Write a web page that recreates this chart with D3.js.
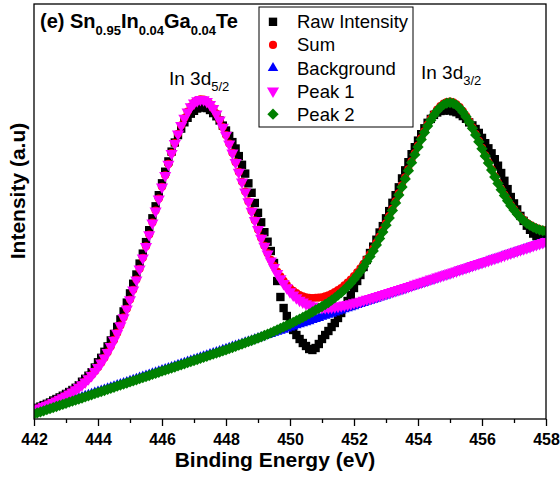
<!DOCTYPE html>
<html>
<head>
<meta charset="utf-8">
<script src="https://cdn.jsdelivr.net/npm/d3@7"></script>
<style>
  body { margin: 0; background: #fff; }
  svg { display: block; font-family: "Liberation Sans", Arial, sans-serif; }
</style>
</head>
<body>
<div id="chart"></div>
<script>
// XPS In 3d spectrum, Sn0.95In0.04Ga0.04Te
// energy grid: 442 -> 458 eV, 0.1 eV step (161 points)
const energyStart = 442;
const energyStep = 0.1;

const rawIntensity = [
  10.0, 11.2, 12.4, 13.9, 15.2, 16.5, 18.5, 20.0, 21.6, 23.3,
  25.1, 27.0, 29.0, 31.2, 33.7, 37.3, 40.2, 43.3, 46.7, 51.5,
  56.7, 61.2, 67.2, 72.6, 78.6, 85.1, 92.1, 99.6, 107.6, 116.4,
  125.6, 135.3, 144.5, 155.4, 165.4, 176.9, 188.8, 200.7, 212.7, 223.8,
  235.7, 247.3, 257.6, 267.4, 276.5, 283.9, 290.4, 296.7, 301.2, 305.3,
  308.2, 310.5, 311.7, 311.5, 310.9, 309.0, 305.9, 302.7, 298.5, 293.4,
  288.5, 283.0, 276.9, 270.5, 262.9, 254.2, 245.4, 235.7, 226.2, 216.0,
  206.2, 196.7, 186.8, 177.3, 168.0, 156.0, 138.0, 122.0, 111.0, 103.0,
  96.0, 89.0, 84.0, 80.0, 76.0, 73.0, 70.0, 69.0, 71.0, 75.0,
  80.0, 84.0, 88.0, 92.0, 96.0, 101.0, 106.0, 112.0, 118.0, 124.0,
  131.0, 138.0, 144.0, 152.0, 159.0, 166.0, 172.4, 179.3, 186.5, 192.9,
  200.7, 207.9, 216.2, 223.8, 231.7, 240.6, 248.7, 256.8, 264.8, 271.8,
  278.4, 284.8, 290.7, 296.2, 300.1, 304.1, 306.5, 308.0, 308.4, 309.0,
  308.5, 307.7, 306.8, 304.9, 302.9, 300.2, 296.6, 293.6, 290.0, 286.1,
  281.1, 275.8, 270.7, 265.7, 259.8, 253.3, 246.0, 238.2, 229.9, 222.0,
  215.6, 209.6, 203.1, 198.1, 193.3, 189.2, 185.4, 182.9, 181.3, 180.5,
  179.9
];

const sumFit = [
  9.0, 10.2, 11.4, 12.8, 14.1, 15.4, 16.9, 18.4, 20.0, 21.6,
  23.4, 25.3, 27.3, 29.5, 32.0, 34.5, 37.4, 40.5, 43.9, 47.7,
  51.8, 56.3, 61.3, 66.7, 72.7, 79.1, 86.1, 93.6, 101.6, 110.3,
  119.5, 129.2, 139.4, 150.2, 161.2, 172.7, 184.5, 196.4, 208.4, 220.4,
  232.3, 243.8, 255.1, 265.9, 275.9, 285.3, 293.7, 301.0, 307.4, 312.5,
  316.3, 318.6, 319.7, 319.5, 317.8, 314.9, 310.7, 305.4, 299.2, 292.0,
  284.0, 275.4, 266.3, 256.8, 247.1, 237.3, 227.4, 217.6, 208.0, 198.7,
  189.4, 181.0, 173.3, 165.9, 159.2, 153.1, 147.5, 142.6, 138.2, 134.3,
  130.8, 128.1, 125.9, 124.0, 122.7, 121.8, 121.1, 121.0, 121.2, 121.4,
  121.8, 122.7, 123.7, 125.2, 126.9, 128.9, 131.0, 133.6, 136.4, 139.5,
  143.0, 146.7, 150.6, 155.2, 159.9, 164.9, 170.4, 176.3, 182.5, 188.9,
  195.7, 202.9, 210.2, 217.8, 225.7, 233.6, 241.7, 249.8, 257.8, 265.8,
  273.4, 280.8, 287.7, 294.2, 300.1, 305.1, 309.5, 313.0, 315.4, 317.0,
  317.5, 316.7, 314.8, 311.9, 307.9, 303.2, 297.6, 291.6, 285.0, 278.1,
  271.1, 263.8, 256.7, 249.7, 242.8, 236.3, 230.0, 224.2, 218.9, 214.0,
  209.6, 205.6, 202.1, 199.1, 196.3, 194.2, 192.4, 190.9, 189.8, 189.0,
  188.4
];

const background = [
  6.0, 7.1, 8.1, 9.2, 10.3, 11.3, 12.4, 13.5, 14.6, 15.6,
  16.7, 17.8, 18.8, 19.9, 21.0, 22.0, 23.1, 24.2, 25.2, 26.3,
  27.4, 28.4, 29.5, 30.6, 31.7, 32.7, 33.8, 34.9, 35.9, 37.0,
  38.1, 39.1, 40.2, 41.3, 42.3, 43.4, 44.5, 45.6, 46.6, 47.7,
  48.8, 49.8, 50.9, 52.0, 53.0, 54.1, 55.2, 56.2, 57.3, 58.4,
  59.5, 60.5, 61.6, 62.7, 63.7, 64.8, 65.9, 66.9, 68.0, 69.1,
  70.1, 71.2, 72.3, 73.3, 74.4, 75.5, 76.6, 77.6, 78.7, 79.8,
  80.8, 81.9, 83.0, 84.0, 85.1, 86.2, 87.2, 88.3, 89.4, 90.5,
  91.5, 92.6, 93.7, 94.7, 95.8, 96.9, 97.9, 99.0, 100.1, 101.1,
  102.2, 103.3, 104.3, 105.4, 106.5, 107.6, 108.6, 109.7, 110.8, 111.8,
  112.9, 114.0, 115.0, 116.1, 117.2, 118.2, 119.3, 120.4, 121.5, 122.5,
  123.6, 124.7, 125.7, 126.8, 127.9, 128.9, 130.0, 131.1, 132.1, 133.2,
  134.3, 135.3, 136.4, 137.5, 138.6, 139.6, 140.7, 141.8, 142.8, 143.9,
  145.0, 146.0, 147.1, 148.2, 149.2, 150.3, 151.4, 152.5, 153.5, 154.6,
  155.7, 156.7, 157.8, 158.9, 159.9, 161.0, 162.1, 163.1, 164.2, 165.3,
  166.4, 167.4, 168.5, 169.6, 170.6, 171.7, 172.8, 173.8, 174.9, 176.0,
  177.0
];

const peak1 = [
  8.7, 9.9, 11.1, 12.5, 13.8, 15.1, 16.6, 18.1, 19.7, 21.3,
  23.1, 25.0, 27.0, 29.2, 31.7, 34.2, 37.1, 40.2, 43.6, 47.4,
  51.5, 56.0, 61.0, 66.4, 72.4, 78.8, 85.8, 93.3, 101.3, 110.0,
  119.2, 128.9, 139.1, 149.9, 160.9, 172.4, 184.2, 196.1, 208.1, 220.1,
  232.0, 243.5, 254.8, 265.6, 275.6, 285.0, 293.4, 300.7, 307.1, 312.2,
  316.0, 318.3, 319.4, 319.2, 317.5, 314.6, 310.4, 305.1, 298.9, 291.7,
  283.7, 275.1, 266.0, 256.5, 246.8, 237.0, 227.1, 217.3, 207.7, 198.4,
  189.4, 180.8, 172.8, 165.1, 158.1, 151.6, 145.6, 140.3, 135.5, 131.2,
  127.3, 124.1, 121.3, 118.8, 116.9, 115.3, 113.9, 113.0, 112.3, 111.8,
  111.5, 111.5, 111.5, 111.8, 112.2, 112.7, 113.2, 113.9, 114.6, 115.3,
  116.2, 117.0, 117.8, 118.8, 119.7, 120.6, 121.6, 122.6, 123.6, 124.5,
  125.5, 126.6, 127.5, 128.5, 129.6, 130.5, 131.6, 132.6, 133.6, 134.7,
  135.7, 136.7, 137.7, 138.8, 139.9, 140.8, 141.9, 143.0, 143.9, 145.0,
  146.1, 147.1, 148.1, 149.2, 150.2, 151.3, 152.3, 153.4, 154.4, 155.5,
  156.6, 157.5, 158.6, 159.7, 160.7, 161.8, 162.8, 163.8, 164.9, 166.0,
  167.1, 168.1, 169.2, 170.3, 171.2, 172.3, 173.4, 174.4, 175.5, 176.6,
  177.6
];

const peak2 = [
  5.0, 6.1, 7.1, 8.2, 9.3, 10.3, 11.4, 12.5, 13.6, 14.6,
  15.7, 16.8, 17.8, 18.9, 20.0, 21.0, 22.1, 23.2, 24.2, 25.3,
  26.4, 27.4, 28.5, 29.6, 30.7, 31.7, 32.8, 33.9, 34.9, 36.0,
  37.1, 38.1, 39.2, 40.3, 41.3, 42.4, 43.5, 44.6, 45.6, 46.7,
  47.8, 48.8, 49.9, 51.0, 52.0, 53.1, 54.2, 55.2, 56.3, 57.4,
  58.5, 59.5, 60.6, 61.7, 62.7, 63.8, 64.9, 65.9, 67.0, 68.1,
  69.1, 70.3, 71.5, 72.6, 73.8, 75.0, 76.2, 77.3, 78.5, 79.7,
  80.8, 82.1, 83.5, 84.8, 86.2, 87.7, 89.1, 90.6, 92.1, 93.6,
  95.0, 96.6, 98.3, 99.9, 101.6, 103.4, 105.1, 107.0, 109.0, 110.7,
  112.5, 114.5, 116.5, 118.8, 121.2, 123.8, 126.4, 129.4, 132.6, 136.0,
  139.7, 143.7, 147.8, 152.5, 157.4, 162.5, 168.1, 174.1, 180.4, 186.9,
  193.8, 201.0, 208.4, 216.1, 224.0, 232.0, 240.1, 248.3, 256.3, 264.3,
  272.0, 279.4, 286.4, 292.9, 298.8, 303.9, 308.3, 311.8, 314.3, 315.9,
  316.4, 315.6, 313.8, 310.9, 306.9, 302.2, 296.7, 290.7, 284.1, 277.2,
  270.2, 263.0, 255.9, 248.9, 242.0, 235.5, 229.3, 223.5, 218.2, 213.3,
  208.9, 204.9, 201.4, 198.4, 195.7, 193.6, 191.8, 190.3, 189.2, 188.4,
  187.8
];

const majorTicks = [442, 444, 446, 448, 450, 452, 454, 456, 458];
const minorTicks = [443, 445, 447, 449, 451, 453, 455, 457];

function drawChart() {
  const W = 560, H = 477;
  const margin = { top: 4, left: 34 };
  const width = 512, height = 415;

  const svg = d3.select("#chart").append("svg")
    .attr("width", W)
    .attr("height", H);

  const g = svg.append("g")
    .attr("transform", `translate(${margin.left},${margin.top})`);

  const x = d3.scaleLinear().domain([442, 458]).range([0, width]);
  const y = d3.scaleLinear().domain([0, 415]).range([height, 0]);

  g.append("clipPath").attr("id", "plotClip")
    .append("rect").attr("width", width).attr("height", height);

  // marker shapes
  const square = d3.symbol().type(d3.symbolSquare).size(70)();
  const circle = d3.symbol().type(d3.symbolCircle).size(52)();
  const triUp = d3.symbol().type(d3.symbolTriangle).size(48)();
  const triDown = d3.symbol().type(d3.symbolTriangle).size(64)();
  const diamond = d3.symbol().type(d3.symbolSquare).size(64)();

  const series = [
    { name: "Raw Intensity", values: rawIntensity, color: "#000000", path: square, rot: 0 },
    { name: "Sum", values: sumFit, color: "#ff0000", path: circle, rot: 0 },
    { name: "Background", values: background, color: "#0000ff", path: triUp, rot: 0 },
    { name: "Peak 1", values: peak1, color: "#ff00ff", path: triDown, rot: 180 },
    { name: "Peak 2", values: peak2, color: "#008000", path: diamond, rot: 45 }
  ];

  const plot = g.append("g").attr("clip-path", "url(#plotClip)");

  series.forEach(s => {
    const pts = s.values.map((v, i) => ({ e: energyStart + i * energyStep, v: v }));
    plot.append("g")
      .selectAll("path")
      .data(pts)
      .enter().append("path")
      .attr("d", s.path)
      .attr("transform", d => `translate(${x(d.e)},${y(d.v)}) rotate(${s.rot})`)
      .attr("fill", s.color);
  });

  // frame
  g.append("rect")
    .attr("width", width).attr("height", height)
    .attr("fill", "none")
    .attr("stroke", "#000")
    .attr("stroke-width", 1.3);

  // bottom axis, major + minor ticks
  const xAxis = g.append("g")
    .attr("transform", `translate(0,${height})`)
    .call(d3.axisBottom(x).tickValues(majorTicks).tickSize(7).tickFormat(d3.format("d")));
  xAxis.select(".domain").remove();
  xAxis.selectAll("line").attr("stroke", "#000").attr("stroke-width", 1.3);
  xAxis.selectAll("text")
    .attr("y", 26).attr("dy", null)
    .attr("fill", "#000")
    .style("font-size", "16px")
    .style("font-weight", "bold")
    .style("font-family", "'Liberation Sans', Arial, sans-serif");

  const xMinor = g.append("g")
    .attr("transform", `translate(0,${height})`)
    .call(d3.axisBottom(x).tickValues(minorTicks).tickSize(4).tickFormat(""));
  xMinor.select(".domain").remove();
  xMinor.selectAll("line").attr("stroke", "#000").attr("stroke-width", 1.3);

  // axis titles
  svg.append("text")
    .attr("x", 275).attr("y", 467)
    .attr("text-anchor", "middle")
    .style("font-size", "21px").style("font-weight", "bold")
    .text("Binding Energy (eV)");

  svg.append("text")
    .attr("transform", "translate(25,191) rotate(-90)")
    .attr("text-anchor", "middle")
    .style("font-size", "21px").style("font-weight", "bold")
    .text("Intensity (a.u)");

  // sample title
  const title = svg.append("text")
    .attr("x", 40).attr("y", 28)
    .style("font-size", "20px").style("font-weight", "bold");
  title.append("tspan").text("(e) Sn");
  title.append("tspan").attr("dy", 7).style("font-size", "13px").text("0.95");
  title.append("tspan").attr("dy", -7).text("In");
  title.append("tspan").attr("dy", 7).style("font-size", "13px").text("0.04");
  title.append("tspan").attr("dy", -7).text("Ga");
  title.append("tspan").attr("dy", 7).style("font-size", "13px").text("0.04");
  title.append("tspan").attr("dy", -7).text("Te");

  // peak labels
  function peakLabel(px, py, sub) {
    const t = svg.append("text").attr("x", px).attr("y", py)
      .style("font-size", "19px");
    t.append("tspan").text("In 3d");
    t.append("tspan").attr("dy", 6).style("font-size", "13px").text(sub);
  }
  peakLabel(169, 85, "5/2");
  peakLabel(421, 79, "3/2");

  // legend
  const legend = svg.append("g");
  legend.append("rect")
    .attr("x", 259).attr("y", 7)
    .attr("width", 154).attr("height", 120)
    .attr("fill", "#fff")
    .attr("stroke", "#000")
    .attr("stroke-width", 1);

  series.forEach((s, i) => {
    const base = 28.3 + i * 23.1;
    legend.append("path")
      .attr("d", s.path)
      .attr("transform", `translate(273,${base - 6.5}) rotate(${s.rot})`)
      .attr("fill", s.color);
    legend.append("text")
      .attr("x", 297).attr("y", base)
      .style("font-size", "18.5px")
      .text(s.name);
  });
}

document.addEventListener("DOMContentLoaded", drawChart);
</script>
</body>
</html>
